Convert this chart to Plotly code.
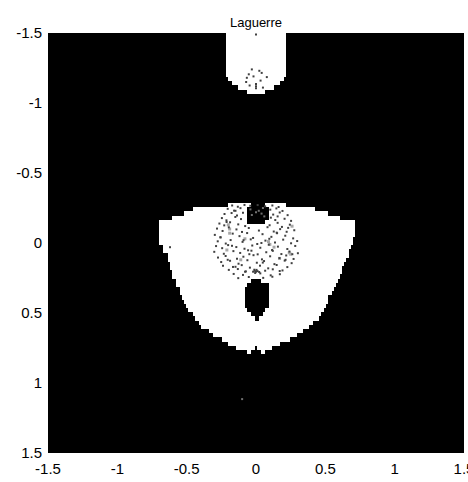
import numpy as np
import plotly.graph_objects as go

title = "Laguerre"
tick_vals = [-1.5, -1, -0.5, 0, 0.5, 1, 1.5]
tick_text = ["-1.5", "-1", "-0.5", "0", "0.5", "1", "1.5"]
grid_y = [round(-1.5 + 0.03 * i, 2) for i in range(101)]
grid_x = [round(-1.5 + 0.015 * i, 3) for i in range(201)]

# White region, upper lobe: row y, left x, right x
upper_y = [-1.5, -1.47, -1.44, -1.41, -1.38, -1.35, -1.32, -1.29, -1.26, -1.23, -1.2, -1.17, -1.14, -1.11, -1.08]
upper_l = [-0.22, -0.22, -0.22, -0.22, -0.22, -0.22, -0.22, -0.22, -0.22, -0.22, -0.21, -0.2, -0.17, -0.12, -0.065]
upper_r = [0.22, 0.22, 0.22, 0.22, 0.22, 0.22, 0.22, 0.22, 0.22, 0.22, 0.21, 0.2, 0.17, 0.13, 0.065]

# White region, main lobe
main_y = [-0.27, -0.24, -0.21, -0.18, -0.15, -0.12, -0.09, -0.06, -0.03, 0.0, 0.03, 0.06, 0.09, 0.12, 0.15, 0.18,
          0.21, 0.24, 0.27, 0.3, 0.33, 0.36, 0.39, 0.42, 0.45, 0.48, 0.51, 0.54, 0.57, 0.6, 0.63, 0.66, 0.69, 0.72, 0.75, 0.78]
main_l = [-0.2, -0.45, -0.51, -0.6, -0.7, -0.7, -0.7, -0.7, -0.69, -0.69, -0.67, -0.66, -0.64, -0.63, -0.62, -0.62,
          -0.61, -0.6, -0.58, -0.57, -0.55, -0.54, -0.53, -0.51, -0.5, -0.48, -0.46, -0.44, -0.41, -0.39, -0.34, -0.3, -0.25, -0.2, -0.14, -0.06]
main_r = [0.21, 0.43, 0.52, 0.61, 0.71, 0.71, 0.71, 0.71, 0.7, 0.69, 0.68, 0.67, 0.66, 0.65, 0.63, 0.62,
          0.62, 0.6, 0.59, 0.57, 0.56, 0.54, 0.52, 0.51, 0.5, 0.48, 0.47, 0.45, 0.41, 0.38, 0.34, 0.29, 0.25, 0.17, 0.11, 0.06]

# Black holes inside the white region
hole_y = [-0.27, -0.24, -0.21, -0.18, -0.15, 0.27, 0.3, 0.33, 0.36, 0.39, 0.42, 0.45, 0.48, 0.51, 0.54, 0.75, 0.78]
hole_l = [-0.04, -0.07, -0.07, -0.07, -0.06, -0.03, -0.07, -0.085, -0.085, -0.085, -0.085, -0.08, -0.06, -0.04, -0.01, -0.01, -0.03]
hole_r = [0.06, 0.09, 0.09, 0.09, 0.07, 0.04, 0.09, 0.09, 0.09, 0.09, 0.09, 0.09, 0.07, 0.05, 0.02, 0.01, 0.03]

# Dark speckle points
speck_x = [-0.172, -0.131, -0.083, -0.041, 0.012, 0.066, 0.118, 0.163, -0.204, -0.158, -0.112, 0.103, 0.147, 0.191,
           -0.227, -0.176, -0.137, -0.094, 0.124, 0.171, 0.228, -0.246, -0.213, -0.149, -0.108, 0.107, 0.139, 0.206, 0.253,
           -0.264, -0.229, -0.187, -0.128, -0.078, 0.098, 0.156, 0.187, 0.244, -0.281, -0.241, -0.196, -0.141, -0.101, -0.052, 0.021, 0.083, 0.128, 0.174, 0.232, 0.276,
           -0.297, -0.257, -0.168, -0.119, -0.064, -0.021, 0.047, 0.111, 0.149, 0.211, 0.268, -0.276, -0.218, -0.183, -0.097, -0.038, 0.009, 0.068, 0.137, 0.196, 0.253, 0.297,
           -0.288, -0.244, -0.201, -0.142, -0.083, -0.027, 0.031, 0.092, 0.158, 0.226, 0.283, -0.301, -0.232, -0.163, -0.114, -0.057, 0.012, 0.074, 0.121, 0.183, 0.241, 0.302,
           -0.274, -0.219, -0.137, -0.091, -0.018, 0.043, 0.102, 0.169, 0.218, 0.271, -0.251, -0.187, -0.126, -0.062, 0.006, 0.058, 0.133, 0.207, 0.257,
           -0.238, -0.166, -0.103, -0.044, 0.029, 0.088, 0.149, 0.226, -0.196, -0.131, -0.073, -0.012, 0.066, 0.121, 0.191, -0.161, -0.094, 0.031, 0.106, 0.172,
           -0.128, -0.052, 0.052, 0.118, -0.021, -0.009, 0.0, 0.011, 0.023, -0.006, 0.004, -0.62, 0.0,
           -0.03, 0.024, -0.052, 0.041, -0.066, -0.018, 0.078, -0.071, 0.033, 0.0, 0.0, 0.0, -0.046, 0.05,
           -0.148, -0.212, 0.156, 0.221, -0.09, 0.039, -0.173, 0.116, -0.255, 0.262, -0.048, 0.152, -0.204, 0.049, -0.148, 0.213, -0.079, 0.096, -0.033, 0.171]
speck_y = [-0.268, -0.259, -0.272, -0.266, -0.271, -0.262, -0.268, -0.257, -0.244, -0.231, -0.249, -0.238, -0.247, -0.229,
           -0.207, -0.214, -0.196, -0.216, -0.203, -0.218, -0.199, -0.178, -0.162, -0.186, -0.171, -0.181, -0.164, -0.173, -0.158,
           -0.139, -0.126, -0.148, -0.133, -0.121, -0.127, -0.144, -0.115, -0.131, -0.103, -0.086, -0.112, -0.097, -0.079, -0.107, -0.089, -0.113, -0.082, -0.099, -0.108, -0.091,
           -0.058, -0.041, -0.067, -0.049, -0.071, -0.036, -0.063, -0.044, -0.074, -0.052, -0.033, -0.012, 0.004, -0.021, -0.008, -0.026, 0.007, -0.017, -0.003, -0.024, 0.002, -0.014,
           0.022, 0.037, 0.015, 0.029, 0.041, 0.018, 0.034, 0.012, 0.026, 0.043, 0.021, 0.063, 0.077, 0.058, 0.071, 0.052, 0.081, 0.066, 0.056, 0.079, 0.061, 0.073,
           0.104, 0.093, 0.112, 0.098, 0.087, 0.117, 0.095, 0.108, 0.089, 0.114, 0.136, 0.127, 0.148, 0.123, 0.141, 0.129, 0.151, 0.126, 0.144,
           0.163, 0.171, 0.158, 0.176, 0.162, 0.181, 0.157, 0.172, 0.192, 0.186, 0.203, 0.191, 0.198, 0.188, 0.196, 0.221, 0.228, 0.217, 0.231, 0.223,
           0.251, 0.243, 0.249, 0.241, 0.205, 0.199, 0.206, 0.201, 0.207, 0.214, 0.192, 0.03, -1.49,
           -1.24, -1.23, -1.205, -1.215, -1.18, -1.19, -1.185, -1.15, -1.16, -1.135, -1.12, -1.105, -1.125, -1.11,
           -0.23, -0.15, -0.19, -0.08, -0.02, 0.0, 0.02, 0.05, -0.04, 0.08, 0.08, -0.07, 0.12, 0.14, 0.17, 0.12, 0.205, -0.03, 0.055, 0.2]
# Mid-grey blotches in the speckle
grey_x = [-0.2, -0.19, -0.19, 0.09, 0.1, 0.13, 0.24, 0.25, -0.11, 0.17, -0.08, -0.21, 0.26]
grey_y = [-0.13, -0.1, -0.07, -0.01, 0.01, 0.03, 0.07, 0.08, 0.12, 0.11, -0.03, 0.05, -0.12]
# Pale flecks on the black
pale_x = [-0.1, -0.04, 0.0, 0.05, -0.03, 0.04, 0.02, 0.06]
pale_y = [1.115, -0.24, -0.22, -0.25, -0.2, -0.21, -0.23, -0.19]

z = np.zeros((101, 201))
gx = np.array(grid_x)
for ys, ls, rs, val in ((upper_y, upper_l, upper_r, 1.0), (main_y, main_l, main_r, 1.0), (hole_y, hole_l, hole_r, 0.0)):
    for y, l, r in zip(ys, ls, rs):
        row = int(round((y + 1.5) / 0.03))
        z[row, (gx >= l - 0.001) & (gx <= r + 0.001)] = val

fig = go.Figure()
fig.add_trace(go.Heatmap(x=grid_x, y=grid_y, z=z, zmin=0, zmax=1, showscale=False, hoverinfo="skip",
                         colorscale=[[0, "#000000"], [1, "#ffffff"]]))
fig.add_trace(go.Scatter(x=grey_x, y=grey_y, mode="markers", hoverinfo="skip",
                         marker=dict(symbol="square", size=3, color="#a8a8a8", line_width=0)))
fig.add_trace(go.Scatter(x=speck_x, y=speck_y, mode="markers", hoverinfo="skip",
                         marker=dict(symbol="square", size=2, color="#404040", line_width=0)))
fig.add_trace(go.Scatter(x=pale_x, y=pale_y, mode="markers", hoverinfo="skip",
                         marker=dict(symbol="square", size=2, color="#707070", line_width=0)))

axis = dict(tickmode="array", tickvals=tick_vals, ticktext=tick_text, showgrid=False, zeroline=False,
            ticks="", showline=False, automargin=False, ticklabelstandoff=5, ticklabeloverflow="allow",
            tickfont=dict(family="Liberation Sans", size=15, color="#000000"))
fig.update_layout(
    width=468, height=482, showlegend=False, paper_bgcolor="white", plot_bgcolor="black",
    margin=dict(l=48, r=4, t=33, b=29),
    title=dict(text=title, x=256 / 468, xanchor="center", y=1 - 22 / 482, yanchor="middle",
               font=dict(family="Liberation Sans", size=13, color="#000000")),
    xaxis=dict(range=[-1.5, 1.5], **axis),
    yaxis=dict(range=[1.5, -1.5], **axis),
)
fig.write_html("out.html", config={"displayModeBar": False},
               post_script="document.body.style.margin='0';document.body.style.overflow='hidden';")
